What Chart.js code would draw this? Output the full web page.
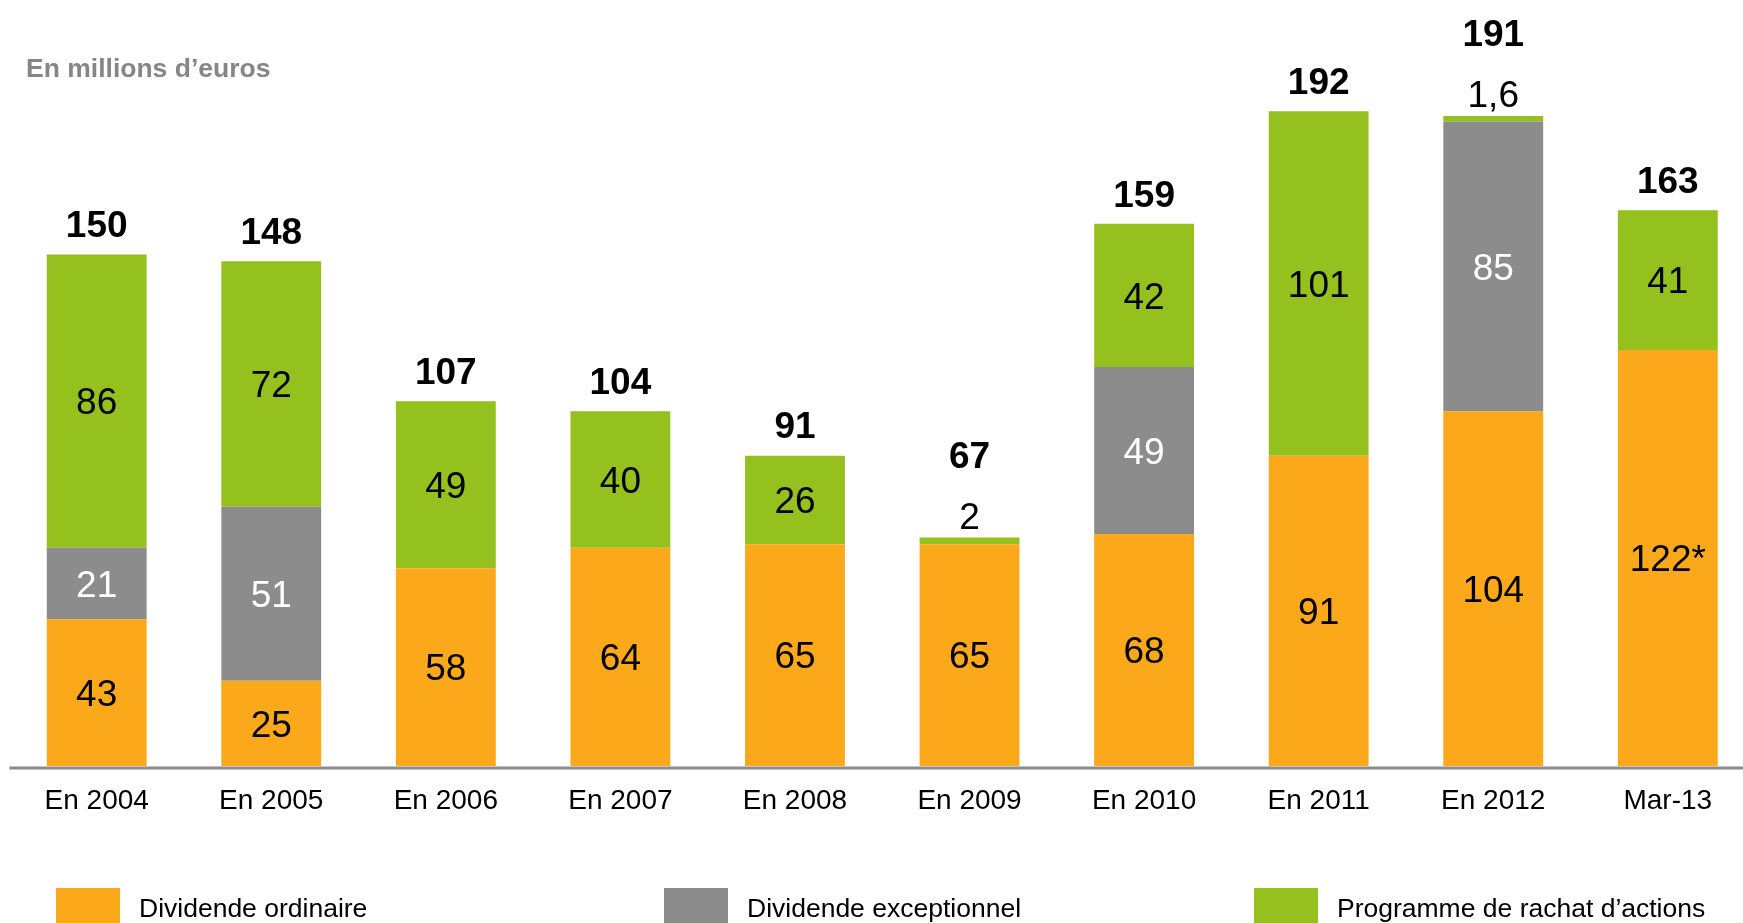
<!DOCTYPE html>
<html>
<head>
<meta charset="utf-8">
<script src="https://cdn.jsdelivr.net/npm/chart.js@4.4.1/dist/chart.umd.min.js"></script>
<style>
  html, body { margin: 0; padding: 0; overflow: hidden; background: #ffffff; }
  #wrap { position: absolute; left: 0; top: 0; width: 1760px; height: 923px; }
</style>
</head>
<body>
<div id="wrap"><canvas id="c" width="1760" height="923"></canvas></div>
<script>
// ---- Data ----
const categories = ['En 2004', 'En 2005', 'En 2006', 'En 2007', 'En 2008', 'En 2009', 'En 2010', 'En 2011', 'En 2012', 'Mar-13'];
const dividendeOrdinaire = [43, 25, 58, 64, 65, 65, 68, 91, 104, 122];
const dividendeExceptionnel = [21, 51, null, null, null, null, 49, null, 85, null];
const rachatActions = [86, 72, 49, 40, 26, 2, 42, 101, 1.6, 41];
const totals = [150, 148, 107, 104, 91, 67, 159, 192, 191, 163];
const ordinaireNotes = ['', '', '', '', '', '', '', '', '', '*'];
const titleText = 'En millions d\u2019euros';

// ---- Styles ----
const FONT = "'Liberation Sans', Arial, Helvetica, sans-serif";
const ORANGE = '#FBA81A';
const GREY = '#8C8C8C';
const GREEN = '#95C11F';

const segLabels = {
  id: 'segLabels',
  afterDatasetsDraw(chart) {
    const ctx = chart.ctx;
    const area = chart.chartArea;
    ctx.save();
    // axis line
    ctx.fillStyle = GREY;
    ctx.fillRect(area.left, area.bottom + 0.5, 1760 - area.left, 3);

    const n = chart.data.labels.length;
    for (let j = 0; j < n; j++) {
      let topY = Infinity, topSmall = false, xPos = 0;
      chart.data.datasets.forEach((ds, i) => {
        const v = ds.data[j];
        if (v == null) return;
        const el = chart.getDatasetMeta(i).data[j];
        const h = Math.abs(el.base - el.y);
        const txt = String(v).replace('.', ',') + (ds.notes ? ds.notes[j] : '');
        ctx.font = '37px ' + FONT;
        ctx.textAlign = 'center';
        ctx.textBaseline = 'alphabetic';
        let cy;
        const small = h < 30;
        if (small) { cy = el.y - 22; ctx.fillStyle = '#000000'; }
        else { cy = (el.y + el.base) / 2; ctx.fillStyle = ds.labelColor; }
        ctx.fillText(txt, el.x, cy + 0.358 * 37);
        if (el.y < topY) { topY = el.y; topSmall = small; xPos = el.x; }
      });
      ctx.font = 'bold 37px ' + FONT;
      ctx.fillStyle = '#000000';
      ctx.textAlign = 'center';
      const cyT = topY - (topSmall ? 83 : 30.5);
      ctx.fillText(String(totals[j]), xPos, cyT + 0.358 * 37);
    }
    ctx.restore();
  },
  afterDraw(chart) {
    const ctx = chart.ctx;
    ctx.save();
    // title
    ctx.font = 'bold 26.5px ' + FONT;
    ctx.fillStyle = '#868686';
    ctx.textAlign = 'left';
    ctx.textBaseline = 'alphabetic';
    ctx.fillText(titleText, 26, 76.5);
    // legend
    const boxX = [56, 664, 1254];
    chart.data.datasets.forEach((ds, i) => {
      ctx.fillStyle = ds.backgroundColor;
      ctx.fillRect(boxX[i], 888, 64, 40);
      ctx.fillStyle = '#000000';
      ctx.font = '26.5px ' + FONT;
      ctx.fillText(ds.label, boxX[i] + 83, 916.5);
    });
    ctx.restore();
  }
};

new Chart(document.getElementById('c'), {
  type: 'bar',
  data: {
    labels: categories,
    datasets: [
      { label: 'Dividende ordinaire', data: dividendeOrdinaire, backgroundColor: ORANGE, labelColor: '#000000', notes: ordinaireNotes },
      { label: 'Dividende exceptionnel', data: dividendeExceptionnel, backgroundColor: GREY, labelColor: '#ffffff' },
      { label: 'Programme de rachat d\u2019actions', data: rachatActions, backgroundColor: GREEN, labelColor: '#000000' }
    ]
  },
  options: {
    responsive: false,
    animation: false,
    devicePixelRatio: 1,
    layout: { padding: { left: 9.4, right: 4.9, top: 15.8, bottom: 87.4 } },
    datasets: { bar: { categoryPercentage: 1, barPercentage: 0.572, borderWidth: 0 } },
    plugins: { legend: { display: false }, tooltip: { enabled: false }, title: { display: false } },
    scales: {
      x: {
        stacked: true,
        grid: { display: false, drawTicks: false },
        border: { display: false },
        ticks: { color: '#000000', font: { family: FONT, size: 28 }, padding: 18, maxRotation: 0, autoSkip: false }
      },
      y: {
        stacked: true,
        display: false,
        min: 0,
        max: 220
      }
    }
  },
  plugins: [segLabels]
});
</script>
</body>
</html>
